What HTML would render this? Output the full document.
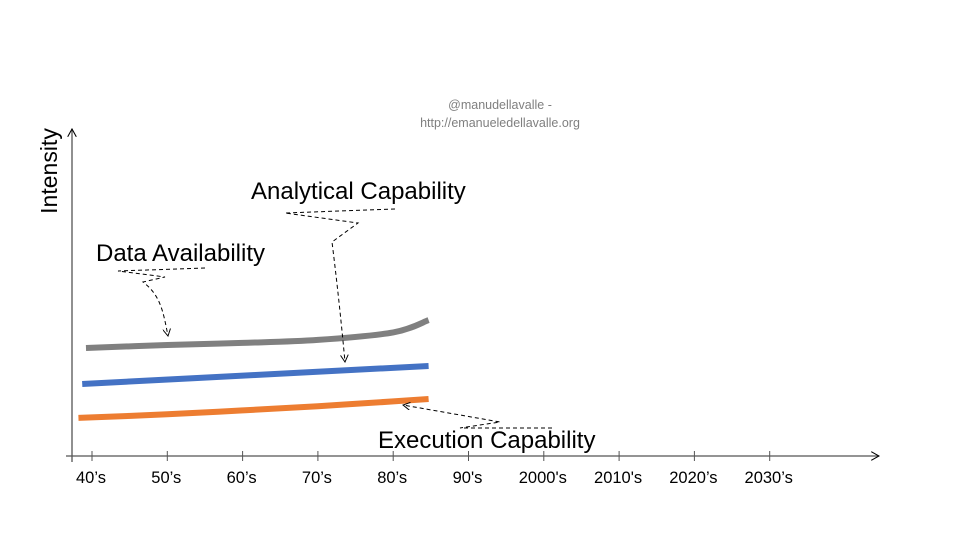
<!DOCTYPE html>
<html><head><meta charset="utf-8"><style>
body{margin:0;background:#fff}
svg{display:block;font-family:"Liberation Sans",Arial,sans-serif}
</style></head><body>
<svg width="960" height="540">
<defs>
<marker id="ah" viewBox="0 0 10 10" refX="9" refY="5" markerWidth="8" markerHeight="8" orient="auto-start-reverse" markerUnits="userSpaceOnUse"><path d="M0,0 L9,5 L0,10" fill="none" stroke="#000" stroke-width="1.2"/></marker>
<marker id="ah2" viewBox="0 0 10 10" refX="9" refY="5" markerWidth="9" markerHeight="9" orient="auto" markerUnits="userSpaceOnUse"><path d="M0,0 L9,5 L0,10" fill="none" stroke="#000" stroke-width="1.2"/></marker>
</defs>
<text x="500" y="109" font-size="12.5" fill="#7f7f7f" text-anchor="middle">@manudellavalle -</text>
<text x="500" y="127" font-size="12.5" fill="#7f7f7f" text-anchor="middle">http://emanueledellavalle.org</text>
<text transform="translate(57,171) rotate(-90)" font-size="23" text-anchor="middle">Intensity</text>
<line x1="72" y1="462" x2="72" y2="129" stroke="#555" stroke-width="1.3" marker-end="url(#ah2)"/>
<line x1="66" y1="456" x2="879" y2="456" stroke="#555" stroke-width="1.3" marker-end="url(#ah2)"/>
<g id="ticks"></g>
<g id="series"></g>
<text x="96" y="261" font-size="24">Data Availability</text>
<text x="251" y="199" font-size="24">Analytical Capability</text>
<text x="378" y="448" font-size="24">Execution Capability</text>
<g fill="none" stroke="#000" stroke-width="1" stroke-dasharray="4,3">
<path d="M205,268 L118,271 L165,277 L143,282 C160,295 163,310 168,336" marker-end="url(#ah)"/>
<path d="M395,209 L285,213 L358,223 L332,242 C338,290 342,330 345,362" marker-end="url(#ah)"/>
<path d="M552,428 L460,428 L500,422 L403,405" marker-end="url(#ah)"/>
</g>
</svg>
<script>
const categories=["40’s","50’s","60’s","70’s","80’s","90's","2000's","2010's","2020’s","2030’s"];
const xIdx=[-0.08,1,2,3,4,4.47];
const dataAvailability=[36,37,37.7,38.7,41.2,45.3];
const analyticalX=[-0.13,4.47];
const analyticalCapability=[24,30];
const executionX=[-0.18,1,2,3,4,4.47];
const executionCapability=[12.7,13.9,15.2,16.6,18.2,19];
const NS="http://www.w3.org/2000/svg";
const xs=i=>92+i*75.3;
const ys=v=>456-v*3;
const tg=document.getElementById('ticks');
categories.forEach((c,i)=>{
 const l=document.createElementNS(NS,'line');
 l.setAttribute('x1',xs(i));l.setAttribute('x2',xs(i));l.setAttribute('y1',451);l.setAttribute('y2',461);
 l.setAttribute('stroke','#555');
 
 
 tg.appendChild(l);
 const t=document.createElementNS(NS,'text');
 t.setAttribute('x',xs(i)-1);t.setAttribute('y',483);t.setAttribute('font-size','16.5');t.setAttribute('text-anchor','middle');
 t.textContent=c;
 
 
 tg.appendChild(t);
});
const sg=document.getElementById('series');
function line(xa,ya,color,name){
 const p=document.createElementNS(NS,'path');
 const pts=xa.map((x,i)=>[xs(x),ys(ya[i])]);
 let d='M'+pts[0][0]+','+pts[0][1];
 for(let i=0;i<pts.length-1;i++){
  const p0=pts[Math.max(0,i-1)],p1=pts[i],p2=pts[i+1],p3=pts[Math.min(pts.length-1,i+2)];
  const c1=[p1[0]+(p2[0]-p0[0])/6,p1[1]+(p2[1]-p0[1])/6];
  const c2=[p2[0]-(p3[0]-p1[0])/6,p2[1]-(p3[1]-p1[1])/6];
  d+='C'+c1[0]+','+c1[1]+' '+c2[0]+','+c2[1]+' '+p2[0]+','+p2[1];
 }
 p.setAttribute('d',d);p.setAttribute('fill','none');p.setAttribute('stroke',color);p.setAttribute('stroke-width','6');
 
 
 sg.appendChild(p);
}
line(xIdx,dataAvailability,'#808080','series-data-availability');
line(analyticalX,analyticalCapability,'#4472c4','series-analytical-capability');
line(executionX,executionCapability,'#ed7d31','series-execution-capability');
</script>
</body></html>
